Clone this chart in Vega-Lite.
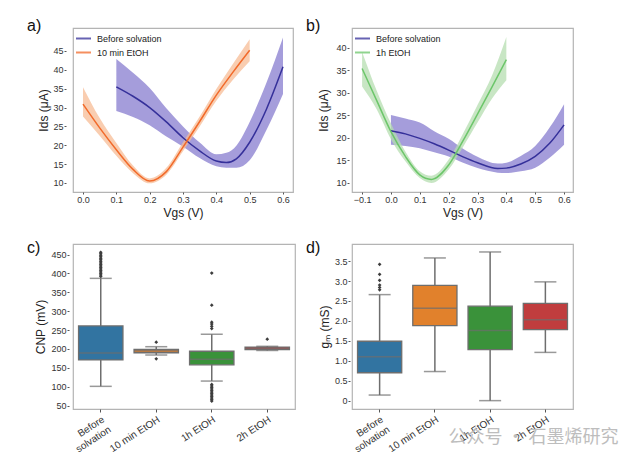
{
  "$schema": "https://vega.github.io/schema/vega-lite/v6.json",
  "background": "white",
  "padding": {"left": 26, "top": 17, "right": 5, "bottom": 5},
  "config": {
    "font": "Liberation Sans",
    "view": {"stroke": "#b4b4b4", "strokeWidth": 1.2},
    "axis": {"labelFont": "Liberation Sans", "labelFontSize": 9, "labelColor": "#333333", "titleFont": "Liberation Sans", "titleFontSize": 12, "titleFontWeight": "normal", "titleColor": "#222222", "domain": false, "grid": false, "tickColor": "#555555", "tickSize": 2, "labelPadding": 1, "labelOverlap": false, "labelBound": false},
    "legend": {"labelFont": "Liberation Sans", "labelFontSize": 9, "labelColor": "#222222"},
    "title": {"font": "Liberation Sans", "fontSize": 16, "fontWeight": "normal", "color": "#111111"}
  },
  "title": {"text": "公众号 · 石墨烯研究", "orient": "bottom", "anchor": "end", "font": "Noto Sans CJK SC", "fontSize": 18, "color": "#bdbdbd", "fontWeight": "normal", "dy": -30, "dx": 45},
  "datasets": {
    "curveA": [
      {"series": "Before solvation", "x": 0.1, "y": 35.5, "lo": 29.1, "hi": 42.9},
      {"series": "Before solvation", "x": 0.15, "y": 33.0, "lo": 27.5, "hi": 39.2},
      {"series": "Before solvation", "x": 0.2, "y": 30.0, "lo": 25.3, "hi": 35.2},
      {"series": "Before solvation", "x": 0.25, "y": 26.2, "lo": 22.3, "hi": 29.8},
      {"series": "Before solvation", "x": 0.3, "y": 22.0, "lo": 19.6, "hi": 25.0},
      {"series": "Before solvation", "x": 0.35, "y": 18.5, "lo": 16.6, "hi": 20.7},
      {"series": "Before solvation", "x": 0.4, "y": 15.8, "lo": 14.4, "hi": 17.6},
      {"series": "Before solvation", "x": 0.43, "y": 15.4, "lo": 14.0, "hi": 18.0},
      {"series": "Before solvation", "x": 0.46, "y": 16.4, "lo": 14.0, "hi": 19.9},
      {"series": "Before solvation", "x": 0.5, "y": 20.8, "lo": 16.0, "hi": 26.2},
      {"series": "Before solvation", "x": 0.55, "y": 29.5, "lo": 24.0, "hi": 36.5},
      {"series": "Before solvation", "x": 0.6, "y": 40.8, "lo": 33.6, "hi": 48.6},
      {"series": "10 min EtOH", "x": 0.0, "y": 30.9, "lo": 27.6, "hi": 35.4},
      {"series": "10 min EtOH", "x": 0.05, "y": 24.6, "lo": 22.5, "hi": 27.2},
      {"series": "10 min EtOH", "x": 0.1, "y": 18.8, "lo": 17.2, "hi": 20.6},
      {"series": "10 min EtOH", "x": 0.15, "y": 13.6, "lo": 12.6, "hi": 14.6},
      {"series": "10 min EtOH", "x": 0.2, "y": 10.5, "lo": 9.9, "hi": 11.2},
      {"series": "10 min EtOH", "x": 0.25, "y": 13.0, "lo": 12.2, "hi": 14.0},
      {"series": "10 min EtOH", "x": 0.3, "y": 19.5, "lo": 18.4, "hi": 20.8},
      {"series": "10 min EtOH", "x": 0.35, "y": 26.3, "lo": 25.0, "hi": 27.6},
      {"series": "10 min EtOH", "x": 0.4, "y": 33.3, "lo": 31.8, "hi": 34.9},
      {"series": "10 min EtOH", "x": 0.45, "y": 39.4, "lo": 37.4, "hi": 41.6},
      {"series": "10 min EtOH", "x": 0.5, "y": 45.2, "lo": 42.3, "hi": 48.1}
    ],
    "curveB": [
      {"series": "Before solvation", "x": 0.0, "y": 21.6, "lo": 18.5, "hi": 25.1},
      {"series": "Before solvation", "x": 0.05, "y": 20.9, "lo": 18.2, "hi": 24.3},
      {"series": "Before solvation", "x": 0.1, "y": 19.9, "lo": 17.7, "hi": 23.4},
      {"series": "Before solvation", "x": 0.15, "y": 18.7, "lo": 16.8, "hi": 21.5},
      {"series": "Before solvation", "x": 0.2, "y": 17.3, "lo": 15.9, "hi": 19.8},
      {"series": "Before solvation", "x": 0.25, "y": 15.8, "lo": 14.5, "hi": 17.6},
      {"series": "Before solvation", "x": 0.3, "y": 14.5, "lo": 13.3, "hi": 15.8},
      {"series": "Before solvation", "x": 0.37, "y": 13.2, "lo": 12.3, "hi": 14.3},
      {"series": "Before solvation", "x": 0.4, "y": 13.3, "lo": 12.2, "hi": 14.5},
      {"series": "Before solvation", "x": 0.45, "y": 14.2, "lo": 12.6, "hi": 16.0},
      {"series": "Before solvation", "x": 0.5, "y": 15.9, "lo": 13.4, "hi": 18.2},
      {"series": "Before solvation", "x": 0.55, "y": 18.8, "lo": 15.6, "hi": 22.3},
      {"series": "Before solvation", "x": 0.6, "y": 22.9, "lo": 18.5, "hi": 27.5},
      {"series": "1h EtOH", "x": -0.1, "y": 35.4, "lo": 31.4, "hi": 39.1},
      {"series": "1h EtOH", "x": -0.05, "y": 28.4, "lo": 26.4, "hi": 30.6},
      {"series": "1h EtOH", "x": 0.0, "y": 21.4, "lo": 19.7, "hi": 23.2},
      {"series": "1h EtOH", "x": 0.05, "y": 15.9, "lo": 14.8, "hi": 17.0},
      {"series": "1h EtOH", "x": 0.1, "y": 11.8, "lo": 11.1, "hi": 12.6},
      {"series": "1h EtOH", "x": 0.14, "y": 10.8, "lo": 10.0, "hi": 11.6},
      {"series": "1h EtOH", "x": 0.2, "y": 14.0, "lo": 13.0, "hi": 15.2},
      {"series": "1h EtOH", "x": 0.25, "y": 19.4, "lo": 18.0, "hi": 21.0},
      {"series": "1h EtOH", "x": 0.3, "y": 25.3, "lo": 23.4, "hi": 27.3},
      {"series": "1h EtOH", "x": 0.35, "y": 31.3, "lo": 28.7, "hi": 33.8},
      {"series": "1h EtOH", "x": 0.4, "y": 37.4, "lo": 32.8, "hi": 42.4}
    ],
    "boxC": [
      {"cat": "Before solvation", "lo": 101, "q1": 171, "med": 189, "q3": 261, "hi": 387},
      {"cat": "10 min EtOH", "lo": 184, "q1": 190, "med": 195, "q3": 199, "hi": 206},
      {"cat": "1h  EtOH", "lo": 115, "q1": 158, "med": 173, "q3": 194, "hi": 239},
      {"cat": "2h  EtOH", "lo": 196, "q1": 198, "med": 201, "q3": 205, "hi": 207}
    ],
    "outC": [
      {"cat": "Before solvation", "v": 392}, {"cat": "Before solvation", "v": 396}, {"cat": "Before solvation", "v": 400},
      {"cat": "Before solvation", "v": 404}, {"cat": "Before solvation", "v": 408}, {"cat": "Before solvation", "v": 412},
      {"cat": "Before solvation", "v": 416}, {"cat": "Before solvation", "v": 420}, {"cat": "Before solvation", "v": 424},
      {"cat": "Before solvation", "v": 428}, {"cat": "Before solvation", "v": 432}, {"cat": "Before solvation", "v": 436},
      {"cat": "Before solvation", "v": 440}, {"cat": "Before solvation", "v": 444}, {"cat": "Before solvation", "v": 448},
      {"cat": "Before solvation", "v": 452}, {"cat": "Before solvation", "v": 456},
      {"cat": "10 min EtOH", "v": 218}, {"cat": "10 min EtOH", "v": 174},
      {"cat": "1h  EtOH", "v": 401}, {"cat": "1h  EtOH", "v": 316}, {"cat": "1h  EtOH", "v": 271},
      {"cat": "1h  EtOH", "v": 266}, {"cat": "1h  EtOH", "v": 260}, {"cat": "1h  EtOH", "v": 254},
      {"cat": "1h  EtOH", "v": 106}, {"cat": "1h  EtOH", "v": 102}, {"cat": "1h  EtOH", "v": 98},
      {"cat": "1h  EtOH", "v": 94}, {"cat": "1h  EtOH", "v": 90}, {"cat": "1h  EtOH", "v": 86},
      {"cat": "1h  EtOH", "v": 82}, {"cat": "1h  EtOH", "v": 78}, {"cat": "1h  EtOH", "v": 74},
      {"cat": "1h  EtOH", "v": 70}, {"cat": "1h  EtOH", "v": 66}, {"cat": "1h  EtOH", "v": 62},
      {"cat": "2h  EtOH", "v": 226}
    ],
    "boxD": [
      {"cat": "Before solvation", "lo": 0.14, "q1": 0.70, "med": 1.10, "q3": 1.49, "hi": 2.66},
      {"cat": "10 min EtOH", "lo": 0.73, "q1": 1.88, "med": 2.32, "q3": 2.89, "hi": 3.58},
      {"cat": "1h EtOH", "lo": 0.0, "q1": 1.28, "med": 1.76, "q3": 2.37, "hi": 3.73},
      {"cat": "2h EtOH", "lo": 1.21, "q1": 1.78, "med": 2.03, "q3": 2.44, "hi": 2.98}
    ],
    "outD": [
      {"cat": "Before solvation", "v": 3.42}, {"cat": "Before solvation", "v": 3.17}, {"cat": "Before solvation", "v": 3.02},
      {"cat": "Before solvation", "v": 2.9}, {"cat": "Before solvation", "v": 2.84}, {"cat": "Before solvation", "v": 2.78}
    ]
  },
  "columns": 2,
  "bounds": "flush",
  "spacing": {"row": 52, "column": 57},
  "resolve": {"scale": {"color": "independent", "fill": "independent", "stroke": "independent", "x": "independent", "y": "independent"}, "legend": {"stroke": "independent", "fill": "independent", "color": "independent"}},
  "concat": [
    {
      "width": 220, "height": 164,
      "title": {"text": "a)", "anchor": "start", "frame": "group", "dx": -46, "dy": 19, "offset": 0, "baseline": "alphabetic"},
      "data": {"name": "curveA"},
      "encoding": {
        "x": {"field": "x", "type": "quantitative", "title": "Vgs (V)", "scale": {"domain": [-0.03, 0.63], "nice": false, "zero": false}, "axis": {"values": [0, 0.1, 0.2, 0.3, 0.4, 0.5, 0.6], "format": ".1f", "titlePadding": 3}}
      },
      "layer": [
        {
          "mark": {"type": "area", "interpolate": "monotone", "opacity": 0.75},
          "encoding": {
            "y": {"field": "lo", "type": "quantitative", "title": "Ids (μA)", "scale": {"domain": [7.6, 51.1], "nice": false, "zero": false}, "axis": {"values": [10, 15, 20, 25, 30, 35, 40, 45], "offset": 7, "titlePadding": 2, "labelOverlap": false}},
            "y2": {"field": "hi"},
            "fill": {"field": "series", "type": "nominal", "sort": null, "scale": {"domain": ["Before solvation", "10 min EtOH"], "range": ["#877ccf", "#f7bc96"]}, "legend": {"title": null, "orient": "top-left", "offset": 1, "padding": 1, "symbolType": "stroke", "symbolSize": 225, "symbolStrokeWidth": 2, "rowPadding": 0, "labelOffset": 5}}
          }
        },
        {
          "mark": {"type": "line", "interpolate": "monotone", "strokeWidth": 1.5},
          "encoding": {
            "y": {"field": "y", "type": "quantitative", "title": "Ids (μA)", "scale": {"domain": [7.6, 51.1], "nice": false, "zero": false}, "axis": {"values": [10, 15, 20, 25, 30, 35, 40, 45], "offset": 7, "titlePadding": 2, "labelOverlap": false}},
            "stroke": {"field": "series", "type": "nominal", "sort": null, "scale": {"domain": ["Before solvation", "10 min EtOH"], "range": ["#35309a", "#f26a2a"]}, "legend": {"title": null, "orient": "top-left", "offset": 1, "padding": 1, "symbolType": "stroke", "symbolSize": 225, "symbolStrokeWidth": 2, "rowPadding": 0, "labelOffset": 5}}
          }
        }
      ]
    },
    {
      "width": 221, "height": 164,
      "title": {"text": "b)", "anchor": "start", "frame": "group", "dx": -46, "dy": 19, "offset": 0, "baseline": "alphabetic"},
      "data": {"name": "curveB"},
      "encoding": {
        "x": {"field": "x", "type": "quantitative", "title": "Vgs (V)", "scale": {"domain": [-0.135, 0.631], "nice": false, "zero": false}, "axis": {"values": [-0.1, 0, 0.1, 0.2, 0.3, 0.4, 0.5, 0.6], "format": ".1f", "titlePadding": 3}}
      },
      "layer": [
        {
          "mark": {"type": "area", "interpolate": "monotone", "opacity": 0.75},
          "encoding": {
            "y": {"field": "lo", "type": "quantitative", "title": "Ids (μA)", "scale": {"domain": [8, 44.4], "nice": false, "zero": false}, "axis": {"values": [10, 15, 20, 25, 30, 35, 40], "offset": 3, "titlePadding": 5, "labelOverlap": false}},
            "y2": {"field": "hi"},
            "fill": {"field": "series", "type": "nominal", "sort": null, "scale": {"domain": ["Before solvation", "1h EtOH"], "range": ["#877ccf", "#b6deb0"]}, "legend": {"title": null, "orient": "top-left", "offset": 1, "padding": 1, "symbolType": "stroke", "symbolSize": 225, "symbolStrokeWidth": 2, "rowPadding": 0, "labelOffset": 5}}
          }
        },
        {
          "mark": {"type": "line", "interpolate": "monotone", "strokeWidth": 1.5},
          "encoding": {
            "y": {"field": "y", "type": "quantitative", "title": "Ids (μA)", "scale": {"domain": [8, 44.4], "nice": false, "zero": false}, "axis": {"values": [10, 15, 20, 25, 30, 35, 40], "offset": 3, "titlePadding": 5, "labelOverlap": false}},
            "stroke": {"field": "series", "type": "nominal", "sort": null, "scale": {"domain": ["Before solvation", "1h EtOH"], "range": ["#35309a", "#6cc66a"]}, "legend": {"title": null, "orient": "top-left", "offset": 1, "padding": 1, "symbolType": "stroke", "symbolSize": 225, "symbolStrokeWidth": 2, "rowPadding": 0, "labelOffset": 5}}
          }
        }
      ]
    },
    {
      "width": 222, "height": 165,
      "title": {"text": "c)", "anchor": "start", "frame": "group", "dx": -46, "dy": 25, "offset": 0, "baseline": "alphabetic"},
      "encoding": {
        "x": {"field": "cat", "type": "nominal", "sort": null, "title": null, "scale": {"paddingInner": 0, "paddingOuter": 0}, "axis": {"labelAngle": -33, "labelAlign": "right", "labelBaseline": "top", "labelFontSize": 10, "tickSize": 3, "labelPadding": 2, "labelExpr": "datum.label == 'Before solvation' ? ['Before', 'solvation'] : datum.label"}},
        "y": {"type": "quantitative", "title": "CNP (mV)", "scale": {"domain": [41, 478], "nice": false, "zero": false}, "axis": {"values": [50, 100, 150, 200, 250, 300, 350, 400, 450], "offset": 4, "titlePadding": 3, "labelOverlap": false}}
      },
      "layer": [
        {
          "data": {"name": "boxC"},
          "mark": {"type": "rule", "color": "#6e6e6e", "strokeWidth": 1.5},
          "encoding": {
            "y": {"field": "lo", "type": "quantitative", "title": "CNP (mV)", "scale": {"domain": [41, 478], "nice": false, "zero": false}, "axis": {"values": [50, 100, 150, 200, 250, 300, 350, 400, 450], "offset": 4, "titlePadding": 3, "labelOverlap": false}},
            "y2": {"field": "hi"}
          }
        },
        {
          "data": {"name": "boxC"},
          "mark": {"type": "bar", "width": {"band": 0.8}, "stroke": "#6e6e6e", "strokeWidth": 1.3},
          "encoding": {
            "y": {"field": "q1", "type": "quantitative", "title": "CNP (mV)", "scale": {"domain": [41, 478], "nice": false, "zero": false}, "axis": {"values": [50, 100, 150, 200, 250, 300, 350, 400, 450], "offset": 4, "titlePadding": 3, "labelOverlap": false}},
            "y2": {"field": "q3"},
            "color": {"field": "cat", "type": "nominal", "sort": null, "scale": {"range": ["#3274a1", "#e1812c", "#3a923a", "#c03d3e"]}, "legend": null}
          }
        },
        {
          "data": {"name": "boxC"},
          "mark": {"type": "tick", "color": "#6e6e6e", "size": 44, "thickness": 1.5},
          "encoding": {"y": {"field": "med", "type": "quantitative", "title": "CNP (mV)", "scale": {"domain": [41, 478], "nice": false, "zero": false}, "axis": {"values": [50, 100, 150, 200, 250, 300, 350, 400, 450], "offset": 4, "titlePadding": 3, "labelOverlap": false}}}
        },
        {
          "data": {"name": "boxC"},
          "mark": {"type": "tick", "color": "#6e6e6e", "size": 22, "thickness": 1.5},
          "encoding": {"y": {"field": "lo", "type": "quantitative", "title": "CNP (mV)", "scale": {"domain": [41, 478], "nice": false, "zero": false}, "axis": {"values": [50, 100, 150, 200, 250, 300, 350, 400, 450], "offset": 4, "titlePadding": 3, "labelOverlap": false}}}
        },
        {
          "data": {"name": "boxC"},
          "mark": {"type": "tick", "color": "#6e6e6e", "size": 22, "thickness": 1.5},
          "encoding": {"y": {"field": "hi", "type": "quantitative", "title": "CNP (mV)", "scale": {"domain": [41, 478], "nice": false, "zero": false}, "axis": {"values": [50, 100, 150, 200, 250, 300, 350, 400, 450], "offset": 4, "titlePadding": 3, "labelOverlap": false}}}
        },
        {
          "data": {"name": "outC"},
          "mark": {"type": "point", "shape": "diamond", "filled": true, "size": 14, "color": "#3d3d3d", "opacity": 1},
          "encoding": {"y": {"field": "v", "type": "quantitative", "title": "CNP (mV)", "scale": {"domain": [41, 478], "nice": false, "zero": false}, "axis": {"values": [50, 100, 150, 200, 250, 300, 350, 400, 450], "offset": 4, "titlePadding": 3, "labelOverlap": false}}}
        }
      ]
    },
    {
      "width": 221, "height": 165,
      "title": {"text": "d)", "anchor": "start", "frame": "group", "dx": -46, "dy": 25, "offset": 0, "baseline": "alphabetic"},
      "encoding": {
        "x": {"field": "cat", "type": "nominal", "sort": null, "title": null, "scale": {"paddingInner": 0, "paddingOuter": 0}, "axis": {"labelAngle": -33, "labelAlign": "right", "labelBaseline": "top", "labelFontSize": 10, "tickSize": 3, "labelPadding": 2, "labelExpr": "datum.label == 'Before solvation' ? ['Before', 'solvation'] : datum.label"}}
      },
      "layer": [
        {
          "data": {"name": "boxD"},
          "mark": {"type": "rule", "color": "#6e6e6e", "strokeWidth": 1.5},
          "encoding": {
            "y": {"field": "lo", "type": "quantitative", "title": "gₘ (mS)", "scale": {"domain": [-0.21, 3.93], "nice": false, "zero": false}, "axis": {"values": [0, 0.5, 1, 1.5, 2, 2.5, 3, 3.5], "labelExpr": "datum.value == 0 ? '0' : format(datum.value, '.1f')", "offset": 2, "titlePadding": 3, "labelOverlap": false}},
            "y2": {"field": "hi"}
          }
        },
        {
          "data": {"name": "boxD"},
          "mark": {"type": "bar", "width": {"band": 0.8}, "stroke": "#6e6e6e", "strokeWidth": 1.3},
          "encoding": {
            "y": {"field": "q1", "type": "quantitative", "title": "gₘ (mS)", "scale": {"domain": [-0.21, 3.93], "nice": false, "zero": false}, "axis": {"values": [0, 0.5, 1, 1.5, 2, 2.5, 3, 3.5], "labelExpr": "datum.value == 0 ? '0' : format(datum.value, '.1f')", "offset": 2, "titlePadding": 3, "labelOverlap": false}},
            "y2": {"field": "q3"},
            "color": {"field": "cat", "type": "nominal", "sort": null, "scale": {"range": ["#3274a1", "#e1812c", "#3a923a", "#c03d3e"]}, "legend": null}
          }
        },
        {
          "data": {"name": "boxD"},
          "mark": {"type": "tick", "color": "#6e6e6e", "size": 44, "thickness": 1.5},
          "encoding": {"y": {"field": "med", "type": "quantitative", "title": "gₘ (mS)", "scale": {"domain": [-0.21, 3.93], "nice": false, "zero": false}, "axis": {"values": [0, 0.5, 1, 1.5, 2, 2.5, 3, 3.5], "labelExpr": "datum.value == 0 ? '0' : format(datum.value, '.1f')", "offset": 2, "titlePadding": 3, "labelOverlap": false}}}
        },
        {
          "data": {"name": "boxD"},
          "mark": {"type": "tick", "color": "#6e6e6e", "size": 22, "thickness": 1.5},
          "encoding": {"y": {"field": "lo", "type": "quantitative", "title": "gₘ (mS)", "scale": {"domain": [-0.21, 3.93], "nice": false, "zero": false}, "axis": {"values": [0, 0.5, 1, 1.5, 2, 2.5, 3, 3.5], "labelExpr": "datum.value == 0 ? '0' : format(datum.value, '.1f')", "offset": 2, "titlePadding": 3, "labelOverlap": false}}}
        },
        {
          "data": {"name": "boxD"},
          "mark": {"type": "tick", "color": "#6e6e6e", "size": 22, "thickness": 1.5},
          "encoding": {"y": {"field": "hi", "type": "quantitative", "title": "gₘ (mS)", "scale": {"domain": [-0.21, 3.93], "nice": false, "zero": false}, "axis": {"values": [0, 0.5, 1, 1.5, 2, 2.5, 3, 3.5], "labelExpr": "datum.value == 0 ? '0' : format(datum.value, '.1f')", "offset": 2, "titlePadding": 3, "labelOverlap": false}}}
        },
        {
          "data": {"name": "outD"},
          "mark": {"type": "point", "shape": "diamond", "filled": true, "size": 14, "color": "#3d3d3d", "opacity": 1},
          "encoding": {"y": {"field": "v", "type": "quantitative", "title": "gₘ (mS)", "scale": {"domain": [-0.21, 3.93], "nice": false, "zero": false}, "axis": {"values": [0, 0.5, 1, 1.5, 2, 2.5, 3, 3.5], "labelExpr": "datum.value == 0 ? '0' : format(datum.value, '.1f')", "offset": 2, "titlePadding": 3, "labelOverlap": false}}}
        }
      ]
    }
  ]
}
